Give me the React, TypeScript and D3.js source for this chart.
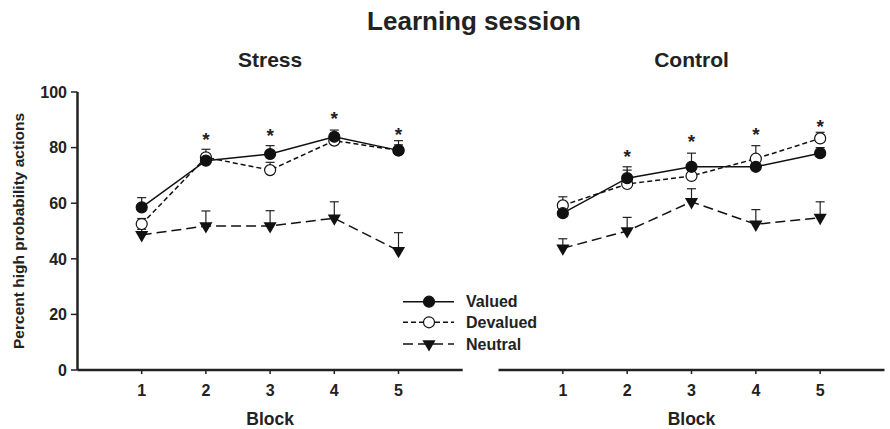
import React from 'react';
import * as d3 from 'd3';

const width = 890;
const height = 429;

const blocks = [1, 2, 3, 4, 5];
const yTicks = [0, 20, 40, 60, 80, 100];

// Stress panel
const stressValued = [58.5, 75.3, 77.7, 83.9, 79.0];
const stressValuedErr = [3.5, 2.5, 3.0, 2.4, 2.0];
const stressDevalued = [52.5, 76.5, 71.9, 82.5, 79.0];
const stressDevaluedErr = [2.0, 2.9, 2.8, 1.5, 3.5];
const stressNeutral = [48.6, 51.8, 51.8, 54.6, 42.9];
const stressNeutralErr = [2.0, 5.4, 5.5, 5.9, 6.5];
const stressStars = [2, 3, 4, 5];
const stressStarLevel = [84.0, 85.7, 91.7, 86.1];

// Control panel
const controlValued = [56.4, 69.0, 73.1, 73.1, 78.0];
const controlValuedErr = [2.0, 4.1, 4.9, 2.0, 2.0];
const controlDevalued = [59.2, 66.9, 69.8, 76.0, 83.3];
const controlDevaluedErr = [3.1, 5.0, 2.0, 4.7, 2.2];
const controlNeutral = [43.8, 50.0, 60.5, 52.4, 54.8];
const controlNeutralErr = [3.4, 4.9, 4.7, 5.3, 5.7];
const controlStars = [2, 3, 4, 5];
const controlStarLevel = [78.2, 83.3, 86.1, 88.7];

const seriesNames = ['Valued', 'Devalued', 'Neutral'];

const font = 'Liberation Sans, Arial, Helvetica, sans-serif';

const y = d3.scaleLinear().domain([0, 100]).range([370, 92]);

type Series = { name: string; values: number[]; err: number[] };

const dashFor: Record<string, string> = {
  Valued: 'none',
  Devalued: '5,3',
  Neutral: '10,5',
};

const triPath = d3.symbol().type(d3.symbolTriangle).size(75)() as string;

function Marker({ name, cx, cy }: { name: string; cx: number; cy: number }) {
  if (name === 'Neutral') {
    return <path d={triPath} transform={`translate(${cx},${cy}) rotate(180)`} fill="#111" />;
  }
  return (
    <circle
      cx={cx}
      cy={cy}
      r={5.5}
      fill={name === 'Valued' ? '#111' : '#fff'}
      stroke="#111"
      strokeWidth={1.2}
    />
  );
}

function Panel({
  x0,
  x1,
  title,
  series,
  stars,
  starLevel,
}: {
  x0: number;
  x1: number;
  title: string;
  series: Series[];
  stars: number[];
  starLevel: number[];
}) {
  const x = d3.scaleLinear().domain([0, 6]).range([x0, x1]);
  const line = d3
    .line<number>()
    .x((_, i) => x(blocks[i]))
    .y((d) => y(d));
  const drawOrder = [...series].reverse();
  return (
    <g>
      <text
        x={x(3)}
        y={67}
        textAnchor="middle"
        fontFamily={font}
        fontWeight="bold"
        fontSize={21}
        fill="#222"
      >
        {title}
      </text>
      {/* x axis */}
      <line x1={x0} x2={x1} y1={y(0)} y2={y(0)} stroke="#222" strokeWidth={2.5} />
      {blocks.map((b) => (
        <g key={b}>
          <line x1={x(b)} x2={x(b)} y1={y(0)} y2={y(0) + 4} stroke="#222" strokeWidth={1.5} />
          <text
            x={x(b)}
            y={396}
            textAnchor="middle"
            fontFamily={font}
            fontWeight="bold"
            fontSize={16}
            fill="#222"
          >
            {b}
          </text>
        </g>
      ))}
      <text
        x={x(3)}
        y={424.5}
        textAnchor="middle"
        fontFamily={font}
        fontWeight="bold"
        fontSize={17.5}
        fill="#222"
      >
        Block
      </text>
      {/* error bars */}
      {drawOrder.map((s) =>
        s.values.map((v, i) => (
          <g key={`${s.name}-e${i}`} stroke="#222" strokeWidth={1.2}>
            <line x1={x(blocks[i])} x2={x(blocks[i])} y1={y(v)} y2={y(v + s.err[i])} />
            <line
              x1={x(blocks[i]) - 4.5}
              x2={x(blocks[i]) + 4.5}
              y1={y(v + s.err[i])}
              y2={y(v + s.err[i])}
            />
          </g>
        ))
      )}
      {/* lines */}
      {drawOrder.map((s) => (
        <path
          key={s.name}
          d={line(s.values) as string}
          fill="none"
          stroke="#111"
          strokeWidth={1.5}
          strokeDasharray={dashFor[s.name]}
        />
      ))}
      {/* markers */}
      {drawOrder.map((s) =>
        s.values.map((v, i) => (
          <Marker key={`${s.name}-m${i}`} name={s.name} cx={x(blocks[i])} cy={y(v)} />
        ))
      )}
      {stars.map((b, i) => (
        <text
          key={`star${b}`}
          x={x(b)}
          y={y(starLevel[i]) + 10}
          textAnchor="middle"
          fontFamily={font}
          fontWeight="bold"
          fontSize={19}
          fill="#222"
        >
          *
        </text>
      ))}
    </g>
  );
}

export default function App() {
  const stress: Series[] = [
    { name: seriesNames[0], values: stressValued, err: stressValuedErr },
    { name: seriesNames[1], values: stressDevalued, err: stressDevaluedErr },
    { name: seriesNames[2], values: stressNeutral, err: stressNeutralErr },
  ];
  const control: Series[] = [
    { name: seriesNames[0], values: controlValued, err: controlValuedErr },
    { name: seriesNames[1], values: controlDevalued, err: controlDevaluedErr },
    { name: seriesNames[2], values: controlNeutral, err: controlNeutralErr },
  ];
  const legendY = [301.7, 322.3, 344];
  return (
    <svg
      width={width}
      height={height}
      style={{ position: 'absolute', left: 0, top: 0, background: '#fff' }}
    >
      <text
        x={474}
        y={29.5}
        textAnchor="middle"
        fontFamily={font}
        fontWeight="bold"
        fontSize={26}
        fill="#222"
      >
        Learning session
      </text>
      {/* y axis */}
      <line x1={77.5} x2={77.5} y1={y(100)} y2={y(0)} stroke="#222" strokeWidth={2.5} />
      {yTicks.map((t) => (
        <g key={t}>
          <line x1={71} x2={77.5} y1={y(t)} y2={y(t)} stroke="#222" strokeWidth={1.5} />
          <text
            x={67}
            y={y(t) + 5.7}
            textAnchor="end"
            fontFamily={font}
            fontWeight="bold"
            fontSize={16}
            fill="#222"
          >
            {t}
          </text>
        </g>
      ))}
      <text
        transform="translate(24,231) rotate(-90)"
        textAnchor="middle"
        fontFamily={font}
        fontWeight="bold"
        fontSize={15.5}
        fill="#222"
      >
        Percent high probability actions
      </text>
      <Panel
        x0={77.5}
        x1={462.7}
        title="Stress"
        series={stress}
        stars={stressStars}
        starLevel={stressStarLevel}
      />
      <Panel
        x0={498.5}
        x1={884.5}
        title="Control"
        series={control}
        stars={controlStars}
        starLevel={controlStarLevel}
      />
      {/* legend */}
      {seriesNames.map((n, i) => (
        <g key={n}>
          <line
            x1={403}
            x2={454}
            y1={legendY[i]}
            y2={legendY[i]}
            stroke="#111"
            strokeWidth={1.5}
            strokeDasharray={dashFor[n]}
          />
          <Marker name={n} cx={429} cy={legendY[i]} />
          <text
            x={466}
            y={legendY[i] + 5.7}
            fontFamily={font}
            fontWeight="bold"
            fontSize={16}
            fill="#222"
          >
            {n}
          </text>
        </g>
      ))}
    </svg>
  );
}
